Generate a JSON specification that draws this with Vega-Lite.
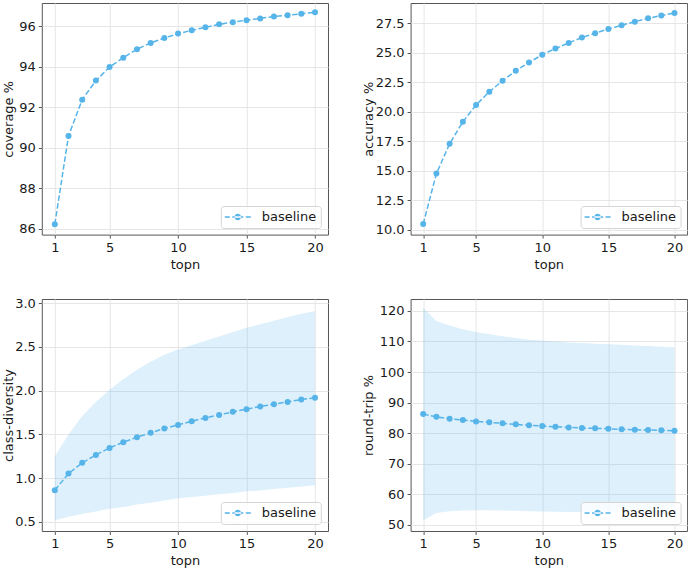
{
  "$schema": "https://vega.github.io/schema/vega-lite/v6.json",
  "background": "white",
  "padding": {"left": 1.8, "top": 2, "right": 2, "bottom": 0},
  "data": {"values": [
    {"topn": 1, "cov": 86.23, "acc": 10.48, "div": 0.862, "dlo": 0.52, "dhi": 1.25, "rt": 86.24, "rlo": 51.5, "rhi": 121.0, "series": "baseline"},
    {"topn": 2, "cov": 90.59, "acc": 14.76, "div": 1.053, "dlo": 0.56, "dhi": 1.50, "rt": 85.36, "rlo": 53.9, "rhi": 116.7, "series": "baseline"},
    {"topn": 3, "cov": 92.38, "acc": 17.29, "div": 1.175, "dlo": 0.59, "dhi": 1.71, "rt": 84.70, "rlo": 54.5, "rhi": 115.2, "series": "baseline"},
    {"topn": 4, "cov": 93.32, "acc": 19.15, "div": 1.266, "dlo": 0.62, "dhi": 1.87, "rt": 84.29, "rlo": 54.7, "rhi": 114.0, "series": "baseline"},
    {"topn": 5, "cov": 93.99, "acc": 20.58, "div": 1.346, "dlo": 0.65, "dhi": 2.01, "rt": 83.86, "rlo": 54.8, "rhi": 113.1, "series": "baseline"},
    {"topn": 6, "cov": 94.45, "acc": 21.70, "div": 1.411, "dlo": 0.67, "dhi": 2.13, "rt": 83.54, "rlo": 54.8, "rhi": 112.4, "series": "baseline"},
    {"topn": 7, "cov": 94.87, "acc": 22.63, "div": 1.468, "dlo": 0.70, "dhi": 2.24, "rt": 83.21, "rlo": 54.7, "rhi": 111.7, "series": "baseline"},
    {"topn": 8, "cov": 95.18, "acc": 23.48, "div": 1.518, "dlo": 0.72, "dhi": 2.33, "rt": 82.89, "rlo": 54.6, "rhi": 111.1, "series": "baseline"},
    {"topn": 9, "cov": 95.42, "acc": 24.18, "div": 1.568, "dlo": 0.745, "dhi": 2.41, "rt": 82.56, "rlo": 54.5, "rhi": 110.6, "series": "baseline"},
    {"topn": 10, "cov": 95.64, "acc": 24.83, "div": 1.609, "dlo": 0.77, "dhi": 2.47, "rt": 82.33, "rlo": 54.4, "rhi": 110.3, "series": "baseline"},
    {"topn": 11, "cov": 95.80, "acc": 25.36, "div": 1.651, "dlo": 0.785, "dhi": 2.52, "rt": 82.10, "rlo": 54.3, "rhi": 110.0, "series": "baseline"},
    {"topn": 12, "cov": 95.95, "acc": 25.84, "div": 1.689, "dlo": 0.80, "dhi": 2.57, "rt": 81.90, "rlo": 54.2, "rhi": 109.7, "series": "baseline"},
    {"topn": 13, "cov": 96.10, "acc": 26.29, "div": 1.723, "dlo": 0.815, "dhi": 2.62, "rt": 81.68, "rlo": 54.2, "rhi": 109.5, "series": "baseline"},
    {"topn": 14, "cov": 96.20, "acc": 26.66, "div": 1.758, "dlo": 0.83, "dhi": 2.67, "rt": 81.58, "rlo": 54.1, "rhi": 109.3, "series": "baseline"},
    {"topn": 15, "cov": 96.30, "acc": 27.02, "div": 1.788, "dlo": 0.85, "dhi": 2.72, "rt": 81.46, "rlo": 54.1, "rhi": 109.1, "series": "baseline"},
    {"topn": 16, "cov": 96.39, "acc": 27.33, "div": 1.819, "dlo": 0.86, "dhi": 2.76, "rt": 81.26, "rlo": 54.0, "rhi": 108.9, "series": "baseline"},
    {"topn": 17, "cov": 96.48, "acc": 27.64, "div": 1.846, "dlo": 0.875, "dhi": 2.80, "rt": 81.13, "rlo": 54.0, "rhi": 108.7, "series": "baseline"},
    {"topn": 18, "cov": 96.54, "acc": 27.92, "div": 1.872, "dlo": 0.89, "dhi": 2.84, "rt": 81.03, "rlo": 53.9, "rhi": 108.5, "series": "baseline"},
    {"topn": 19, "cov": 96.62, "acc": 28.17, "div": 1.899, "dlo": 0.905, "dhi": 2.88, "rt": 80.93, "rlo": 53.9, "rhi": 108.3, "series": "baseline"},
    {"topn": 20, "cov": 96.69, "acc": 28.37, "div": 1.918, "dlo": 0.92, "dhi": 2.91, "rt": 80.80, "rlo": 53.8, "rhi": 108.1, "series": "baseline"}
  ]},
  "columns": 2,
  "spacing": {"row": 24, "column": 31.8},
  "resolve": {"scale": {"color": "independent"}, "legend": {"color": "independent"}},
  "concat": [
    {
      "width": 286.2, "height": 231.6,
      "layer": [
        {"mark": {"type": "line", "strokeDash": [5.5, 2.4], "strokeWidth": 1.5},
         "encoding": {
           "x": {"field": "topn", "type": "quantitative", "scale": {"domain": [0.05, 20.95], "nice": false, "zero": false}, "axis": {"values": [1, 5, 10, 15, 20], "format": "d", "title": "topn"}},
           "y": {"field": "cov", "type": "quantitative", "scale": {"domain": [85.72, 97.15], "nice": false, "zero": false}, "axis": {"values": [86, 88, 90, 92, 94, 96], "format": "d", "title": "coverage %", "titleX": -33.2, "titleBaseline": "middle"}},
           "color": {"field": "series", "type": "nominal", "scale": {"range": ["#56b4e9"]},
             "legend": {"encode": {"symbols": {"update": {"fill": {"value": "#56b4e9"}, "stroke": {"value": "transparent"}, "strokeWidth": {"value": 0}, "opacity": {"value": 1}}}}}}
         }},
        {"mark": {"type": "point", "filled": true, "size": 36, "opacity": 1, "color": "#56b4e9"},
         "encoding": {
           "x": {"field": "topn", "type": "quantitative"},
           "y": {"field": "cov", "type": "quantitative"}
         }}
      ]
    },
    {
      "width": 276.5, "height": 231.6,
      "layer": [
        {"mark": {"type": "line", "strokeDash": [5.5, 2.4], "strokeWidth": 1.5},
         "encoding": {
           "x": {"field": "topn", "type": "quantitative", "scale": {"domain": [0.05, 20.95], "nice": false, "zero": false}, "axis": {"values": [1, 5, 10, 15, 20], "format": "d", "title": "topn"}},
           "y": {"field": "acc", "type": "quantitative", "scale": {"domain": [9.59, 29.22], "nice": false, "zero": false}, "axis": {"values": [10, 12.5, 15, 17.5, 20, 22.5, 25, 27.5], "format": ".1f", "title": "accuracy %", "titleX": -42.5, "titleBaseline": "middle"}},
           "color": {"field": "series", "type": "nominal", "scale": {"range": ["#56b4e9"]},
             "legend": {"encode": {"symbols": {"update": {"fill": {"value": "#56b4e9"}, "stroke": {"value": "transparent"}, "strokeWidth": {"value": 0}, "opacity": {"value": 1}}}}}}
         }},
        {"mark": {"type": "point", "filled": true, "size": 36, "opacity": 1, "color": "#56b4e9"},
         "encoding": {
           "x": {"field": "topn", "type": "quantitative"},
           "y": {"field": "acc", "type": "quantitative"}
         }}
      ]
    },
    {
      "width": 286.2, "height": 232,
      "layer": [
        {"mark": {"type": "area", "color": "#56b4e9", "opacity": 0.2},
         "encoding": {
           "x": {"field": "topn", "type": "quantitative", "scale": {"domain": [0.05, 20.95], "nice": false, "zero": false}, "axis": {"values": [1, 5, 10, 15, 20], "format": "d", "title": "topn"}},
           "y": {"field": "dlo", "type": "quantitative", "scale": {"domain": [0.396, 3.048], "nice": false, "zero": false}, "axis": {"values": [0.5, 1, 1.5, 2, 2.5, 3], "format": ".1f", "title": "class-diversity", "titleX": -33.2, "titleBaseline": "middle"}},
           "y2": {"field": "dhi"}
         }},
        {"mark": {"type": "line", "strokeDash": [5.5, 2.4], "strokeWidth": 1.5},
         "encoding": {
           "x": {"field": "topn", "type": "quantitative"},
           "y": {"field": "div", "type": "quantitative"},
           "color": {"field": "series", "type": "nominal", "scale": {"range": ["#56b4e9"]},
             "legend": {"encode": {"symbols": {"update": {"fill": {"value": "#56b4e9"}, "stroke": {"value": "transparent"}, "strokeWidth": {"value": 0}, "opacity": {"value": 1}}}}}}
         }},
        {"mark": {"type": "point", "filled": true, "size": 36, "opacity": 1, "color": "#56b4e9"},
         "encoding": {
           "x": {"field": "topn", "type": "quantitative"},
           "y": {"field": "div", "type": "quantitative"}
         }}
      ]
    },
    {
      "width": 276.5, "height": 232,
      "layer": [
        {"mark": {"type": "area", "color": "#56b4e9", "opacity": 0.2},
         "encoding": {
           "x": {"field": "topn", "type": "quantitative", "scale": {"domain": [0.05, 20.95], "nice": false, "zero": false}, "axis": {"values": [1, 5, 10, 15, 20], "format": "d", "title": "topn"}},
           "y": {"field": "rlo", "type": "quantitative", "scale": {"domain": [48.0, 123.9], "nice": false, "zero": false}, "axis": {"values": [50, 60, 70, 80, 90, 100, 110, 120], "format": "d", "title": "round-trip %", "titleX": -42.5, "titleBaseline": "middle"}},
           "y2": {"field": "rhi"}
         }},
        {"mark": {"type": "line", "strokeDash": [5.5, 2.4], "strokeWidth": 1.5},
         "encoding": {
           "x": {"field": "topn", "type": "quantitative"},
           "y": {"field": "rt", "type": "quantitative"},
           "color": {"field": "series", "type": "nominal", "scale": {"range": ["#56b4e9"]},
             "legend": {"encode": {"symbols": {"update": {"fill": {"value": "#56b4e9"}, "stroke": {"value": "transparent"}, "strokeWidth": {"value": 0}, "opacity": {"value": 1}}}}}}
         }},
        {"mark": {"type": "point", "filled": true, "size": 36, "opacity": 1, "color": "#56b4e9"},
         "encoding": {
           "x": {"field": "topn", "type": "quantitative"},
           "y": {"field": "rt", "type": "quantitative"}
         }}
      ]
    }
  ],
  "config": {
    "view": {"stroke": "#555555", "strokeWidth": 1},
    "axis": {
      "labelFont": "DejaVu Sans", "labelFontSize": 13, "labelColor": "#1a1a1a",
      "titleFont": "DejaVu Sans", "titleFontSize": 13, "titleFontWeight": "normal", "titleColor": "#1a1a1a",
      "domain": false, "tickColor": "#555555", "tickSize": 3.5, "labelPadding": 3, "titlePadding": 4,
      "grid": true, "gridColor": "#e6e6e6", "gridWidth": 1, "labelFlush": false, "labelOverlap": false, "tickCount": 20
    },
    "legend": {
      "orient": "bottom-right", "offset": 7, "padding": 4, "title": null,
      "strokeColor": "#d5d5d5", "fillColor": "rgba(255,255,255,0.8)", "cornerRadius": 3,
      "labelFont": "DejaVu Sans", "labelFontSize": 13, "labelColor": "#1a1a1a", "labelOffset": 23,
      "symbolType": "M-1,-0.107H-0.286V0.107H-1Z M0.071,-0.107H1.643V0.107H0.071Z M2,-0.107H2.714V0.107H2Z M0.386,0A0.471,0.471 0 1,0 1.328,0A0.471,0.471 0 1,0 0.386,0Z",
      "symbolSize": 196, "symbolFillColor": "#56b4e9", "symbolStrokeWidth": 0
    }
  }
}
